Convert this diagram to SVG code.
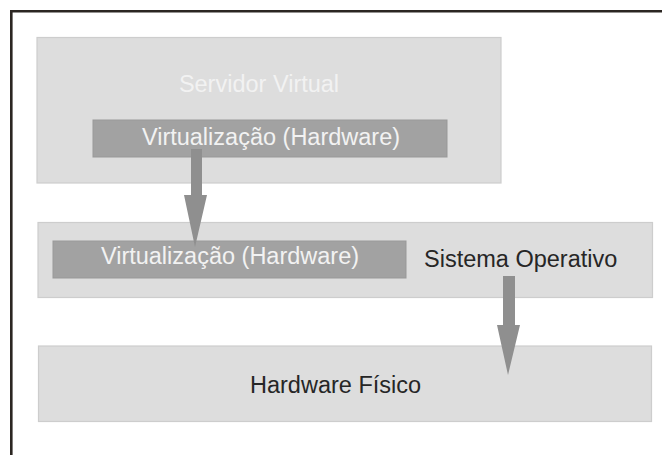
<svg xmlns="http://www.w3.org/2000/svg" width="662" height="455" viewBox="0 0 662 455">
  <style>
    .layer { fill: #dddddd; stroke: #cdcdcd; stroke-width: 1.2; }
    .bar { fill: #a2a2a2; stroke: #999999; stroke-width: 1; }
    .arrow { fill: #8f8f8f; }
    text { font-family: "Liberation Sans", Arial, sans-serif; font-size: 23.5px; }
    .light { fill: #f2f2f2; text-anchor: middle; }
    .dark { fill: #262626; }
  </style>
  <rect width="662" height="455" fill="#ffffff"/>
  <!-- frame -->
  <path d="M11.3 455 V11.3 H662" fill="none" stroke="#2b2622" stroke-width="2.6"/>

  <g id="servidor-virtual">
    <rect class="layer" x="37" y="37.5" width="464" height="145.5"/>
    <text class="light" x="259" y="92">Servidor Virtual</text>
    <rect class="bar" x="93" y="120" width="354" height="37"/>
    <text class="light" x="271" y="145">Virtualização (Hardware)</text>
  </g>

  <g id="sistema-operativo">
    <rect class="layer" x="38" y="222.5" width="614.5" height="75"/>
    <rect class="bar" x="53" y="241" width="353" height="37"/>
    <text class="light" x="230" y="264">Virtualização (Hardware)</text>
    <text class="dark" x="424" y="267">Sistema Operativo</text>
  </g>

  <g id="hardware-fisico">
    <rect class="layer" x="38.5" y="346" width="613" height="75.5"/>
    <text class="dark" x="250" y="393">Hardware Físico</text>
  </g>

  <g id="connectors">
    <path class="arrow" d="M191 149 H202 V195 H207 L195 247 L184 195 H191 Z"/>
    <path class="arrow" d="M503 276 H515 V325 H520 L508 375 L497 325 H503 Z"/>
  </g>
</svg>
